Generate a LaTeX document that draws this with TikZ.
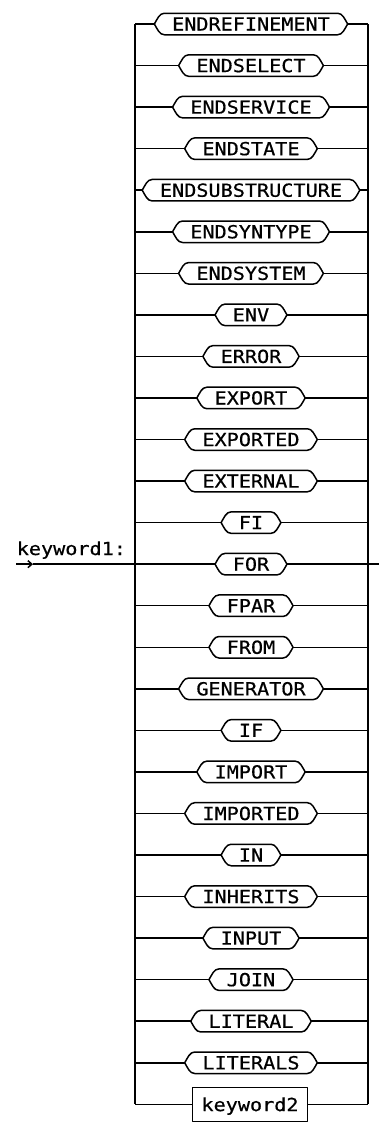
\documentclass[tikz,border=0pt]{standalone}
\usepackage{fontspec}
\usetikzlibrary{arrows.meta}
\newfontfamily\kwf[FakeStretch=1.12,FakeBold=0.6]{DejaVu Sans Mono}
\begin{document}
\begin{tikzpicture}[x=1pt,y=-1pt,
  every path/.style={line width=1.5pt,line join=round},
  kw/.style={font=\kwf\fontsize{18}{18}\selectfont, inner xsep=7pt, inner ysep=0pt,
    minimum height=20pt, text height=13.1pt, text depth=0pt},
  kwref/.style={draw, font=\kwf\fontsize{18}{18}\selectfont, inner xsep=9pt, inner ysep=0pt,
    minimum height=34pt, text height=13.5pt, text depth=0pt},
  lbl/.style={font=\kwf\fontsize{18}{18}\selectfont, inner sep=0pt}]
\useasboundingbox (0,0) rectangle (379,1122);
\foreach \i/\t in {0/ENDREFINEMENT,1/ENDSELECT,2/ENDSERVICE,3/ENDSTATE,4/ENDSUBSTRUCTURE,
  5/ENDSYNTYPE,6/ENDSYSTEM,7/ENV,8/ERROR,9/EXPORT,10/EXPORTED,11/EXTERNAL,12/FI,13/FOR,
  14/FPAR,15/FROM,16/GENERATOR,17/IF,18/IMPORT,19/IMPORTED,20/IN,21/INHERITS,22/INPUT,
  23/JOIN,24/LITERAL,25/LITERALS} {
  \node[kw] (k\i) at (251,{24+\i*41.55}) {\t};
  \path (k\i.west) ++(-10,0) coordinate (k\i-l);
  \path (k\i.east) ++(10,0) coordinate (k\i-r);
  \draw (k\i.north west) -- (k\i.north east)
     .. controls +(5,0) and +(-3,-5) .. (k\i-r)
     .. controls +(-3,5) and +(5,0) .. (k\i.south east) -- (k\i.south west)
     .. controls +(-5,0) and +(3,5) .. (k\i-l)
     .. controls +(3,-5) and +(-5,0) .. (k\i.north west) -- cycle;
  \coordinate (L\i) at (135,{24+\i*41.55});
  \coordinate (R\i) at (368,{24+\i*41.55});
  \draw (L\i) -- (k\i-l);
  \draw (k\i-r) -- (R\i);
}
\node[kwref] (k26) at (250,{24+26*41.55}) {keyword2};
\coordinate (L26) at (135,{24+26*41.55});
\coordinate (R26) at (368,{24+26*41.55});
\draw (L26) -- (k26.west);
\draw (k26.east) -- (R26);
\draw (L0) -- (L26);
\draw (R0) -- (R26);
\node[lbl, anchor=base west] (title) at (16,555) {keyword1:};
\coordinate (start) at (16,{24+13*41.55});
\coordinate (mid) at (33,{24+13*41.55});
\coordinate (exit) at (379,{24+13*41.55});
\draw[-{Straight Barb[length=4pt,width=7pt]}] (start) -- (mid);
\draw (mid) -- (L13);
\draw (R13) -- (exit);
\end{tikzpicture}
\end{document}
